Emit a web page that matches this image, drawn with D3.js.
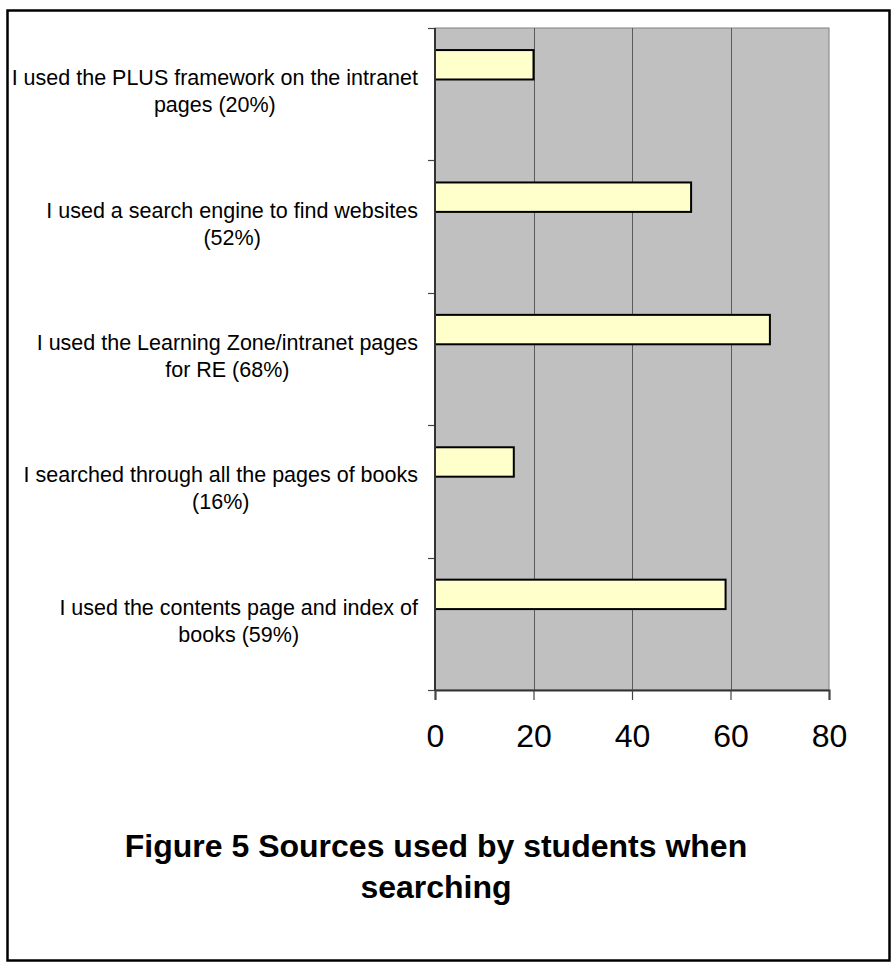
<!DOCTYPE html>
<html>
<head>
<meta charset="utf-8">
<script src="https://cdn.jsdelivr.net/npm/d3@7"></script>
<style>
  body { margin: 0; background: #fff; }
  svg { display: block; font-family: "Liberation Sans", Arial, sans-serif; }
</style>
</head>
<body>
<div id="chart"></div>
<script>
// categories, top to bottom, each split into its display lines
const categories = [
  ["I used the PLUS framework on the intranet", "pages (20%)"],
  ["I used a search engine to find websites", "(52%)"],
  ["I used the Learning Zone/intranet pages", "for RE (68%)"],
  ["I searched through all the pages of books", "(16%)"],
  ["I used the contents page and index of", "books (59%)"]
]
const values = [20, 52, 68, 16, 59]
const xTicks = [0, 20, 40, 60, 80]
const titleLines = ["Figure 5 Sources used by students when", "searching"]

const width = 892
const height = 965
const plot = { left: 435, right: 829, top: 28, bottom: 690 }

const svg = d3.select("#chart")
  .append("svg")
  .attr("width", width)
  .attr("height", height)

// outer frame
svg.append("rect")
  .attr("x", 7.5)
  .attr("y", 10.5)
  .attr("width", 882)
  .attr("height", 950)
  .attr("fill", "#fff")
  .attr("stroke", "#000")
  .attr("stroke-width", 2.5)

const x = d3.scaleLinear()
  .domain([0, 80])
  .range([plot.left, plot.right])

const y = d3.scaleBand()
  .domain(d3.range(categories.length))
  .range([plot.top, plot.bottom])
  .padding(0)

// excel places the bar in the first of three slots with 150% gap
const slot = d3.scaleBand()
  .domain([0, 1, 2])
  .range([0, y.bandwidth()])
  .paddingInner(0)
  .paddingOuter(0.75)

// plot background
svg.append("rect")
  .attr("x", plot.left)
  .attr("y", plot.top)
  .attr("width", plot.right - plot.left)
  .attr("height", plot.bottom - plot.top)
  .attr("fill", "#c0c0c0")
  .attr("stroke", "#808080")
  .attr("stroke-width", 1)

// vertical gridlines
svg.append("g")
  .selectAll("line")
  .data(xTicks.slice(1, -1))
  .enter()
  .append("line")
  .attr("x1", d => Math.round(x(d)) + 0.5)
  .attr("x2", d => Math.round(x(d)) + 0.5)
  .attr("y1", plot.top)
  .attr("y2", plot.bottom)
  .attr("stroke", "#5a5a5a")
  .attr("stroke-width", 1)

// bars
svg.append("g")
  .selectAll("rect")
  .data(values)
  .enter()
  .append("rect")
  .attr("x", x(0))
  .attr("y", (d, i) => y(i) + slot(0))
  .attr("width", d => x(d) - x(0))
  .attr("height", slot.bandwidth())
  .attr("fill", "#ffffcc")
  .attr("stroke", "#000")
  .attr("stroke-width", 2)

// left axis line and ticks
const yTickPos = d3.range(categories.length + 1).map(i => plot.top + i * y.step())

svg.append("g")
  .selectAll("line")
  .data(yTickPos)
  .enter()
  .append("line")
  .attr("x1", plot.left - 7)
  .attr("x2", plot.left)
  .attr("y1", d => Math.round(d) + 0.5)
  .attr("y2", d => Math.round(d) + 0.5)
  .attr("stroke", "#444")
  .attr("stroke-width", 1.2)

svg.append("line")
  .attr("x1", plot.left)
  .attr("x2", plot.left)
  .attr("y1", plot.top)
  .attr("y2", plot.bottom)
  .attr("stroke", "#333")
  .attr("stroke-width", 2)

// bottom axis
const xAxis = svg.append("g")
  .attr("transform", `translate(0,${plot.bottom})`)
  .call(d3.axisBottom(x).tickValues(xTicks).tickSize(10).tickPadding(24))

xAxis.select(".domain").attr("stroke", "#333").attr("stroke-width", 2)
xAxis.selectAll(".tick line").attr("stroke", "#444").attr("stroke-width", 1.2)
xAxis.selectAll(".tick text")
  .attr("fill", "#000")
  .style("font-size", "32px")
  .style("font-family", "'Liberation Sans', Arial, sans-serif")

// category labels: longest line ends near the axis, lines centred on it
const labels = svg.append("g")
  .style("font-size", "21.5px")
  .attr("fill", "#000")

categories.forEach((lines, i) => {
  const cy = y(i) + y.bandwidth() / 2
  const g = labels.append("g")
  const texts = lines.map((line, j) =>
    g.append("text")
      .attr("y", cy - 9 + j * 27)
      .attr("text-anchor", "middle")
      .text(line)
  )
  const maxW = d3.max(texts, t => t.node().getComputedTextLength())
  const centre = 418 - maxW / 2
  texts.forEach(t => t.attr("x", centre))
})

// title
svg.append("g")
  .selectAll("text")
  .data(titleLines)
  .enter()
  .append("text")
  .attr("x", 436)
  .attr("y", (d, i) => 857 + i * 41)
  .attr("text-anchor", "middle")
  .style("font-size", "32px")
  .style("font-weight", "bold")
  .text(d => d)
</script>
</body>
</html>
